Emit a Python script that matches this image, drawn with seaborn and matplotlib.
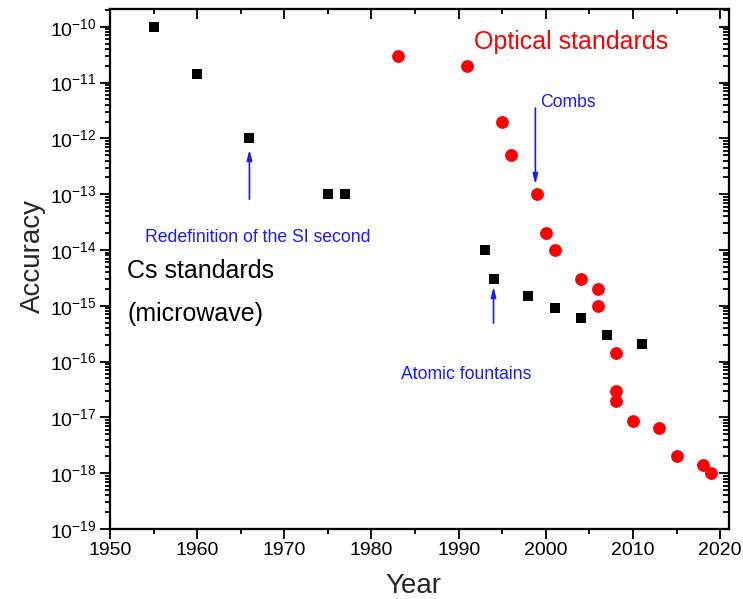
import numpy as np
import matplotlib
matplotlib.use('Agg')
import matplotlib.pyplot as plt
from matplotlib.ticker import FixedLocator, MultipleLocator, NullFormatter
import pandas as pd
import seaborn as sns

# Cs (microwave) standards
cs_year = [1955, 1960, 1966, 1975, 1977, 1993, 1994, 1998, 2001, 2004, 2007, 2011]
cs_acc = [1e-10, 1.4e-11, 1e-12, 1e-13, 1e-13, 1e-14, 3e-15, 1.5e-15, 9e-16, 6e-16, 3e-16, 2.1e-16]

# Optical standards
opt_year = [1983, 1991, 1995, 1996, 1999, 2000, 2001, 2004, 2006, 2006, 2008, 2008, 2008,
            2010, 2013, 2015, 2018, 2019]
opt_acc = [3e-11, 2e-11, 2e-12, 5e-13, 1e-13, 2e-14, 1e-14, 3e-15, 2e-15, 1e-15, 1.4e-16,
           3e-17, 2e-17, 8.5e-18, 6.5e-18, 2e-18, 1.4e-18, 1e-18]

df = pd.DataFrame({
    'Year': cs_year + opt_year,
    'Accuracy': cs_acc + opt_acc,
    'kind': ['Cs'] * len(cs_year) + ['Optical'] * len(opt_year),
})

sns.set_style('ticks')
plt.rcParams['font.family'] = ['Liberation Sans', 'DejaVu Sans']
plt.rcParams['mathtext.fontset'] = 'custom'
plt.rcParams['mathtext.rm'] = 'Liberation Sans'
plt.rcParams['mathtext.it'] = 'Liberation Sans:italic'

fig = plt.figure(figsize=(7.43, 5.99), dpi=100)
ax = fig.add_axes([0.148, 0.117, 0.833, 0.868])

# squares first, circles on top
sns.scatterplot(data=df[df.kind == 'Cs'], x='Year', y='Accuracy', marker='s', color='black',
                s=62, linewidth=0, ax=ax, zorder=3)
sns.scatterplot(data=df[df.kind == 'Optical'], x='Year', y='Accuracy', marker='o', color='#ff0000',
                s=85, linewidth=0, ax=ax, zorder=4)

xlim = (1950, 2021)
ylim = (1e-19, 10 ** -9.68)
y_major = 10.0 ** np.arange(-19, -9)
y_minor = np.outer(10.0 ** np.arange(-20, -9), np.arange(2, 10)).ravel()

ax.set_yscale('log')
ax.set_xlim(*xlim)
ax.set_ylim(*ylim)
ax.xaxis.set_major_locator(MultipleLocator(10))
ax.xaxis.set_minor_locator(MultipleLocator(5))
ax.yaxis.set_major_locator(FixedLocator(y_major))
ax.yaxis.set_minor_locator(FixedLocator(y_minor))
ax.yaxis.set_minor_formatter(NullFormatter())

# bottom / left ticks point outward, mirrored top / right ticks point inward
ax.tick_params(which='both', direction='out', top=False, right=False, width=1.3,
               colors='black', pad=2.5)
ax.tick_params(which='major', length=7, labelsize=14)
ax.tick_params(which='minor', length=3.5)

top = ax.twiny()
top.set_xlim(*xlim)
top.xaxis.set_major_locator(MultipleLocator(10))
top.xaxis.set_minor_locator(MultipleLocator(5))
top.tick_params(which='both', direction='in', labeltop=False, width=1.3, colors='black')
top.tick_params(which='major', length=7.5)
top.tick_params(which='minor', length=3.5)

right = ax.twinx()
right.set_yscale('log')
right.set_ylim(*ylim)
right.yaxis.set_major_locator(FixedLocator(y_major))
right.yaxis.set_minor_locator(FixedLocator(y_minor))
right.yaxis.set_major_formatter(NullFormatter())
right.yaxis.set_minor_formatter(NullFormatter())
right.tick_params(which='both', direction='in', labelright=False, width=1.3, colors='black')
right.tick_params(which='major', length=7)
right.tick_params(which='minor', length=4)

for a in (ax, top, right):
    for sp in a.spines.values():
        sp.set_linewidth(1.5)
        sp.set_color('black')

ax.set_xlabel('Year', fontsize=20)
ax.xaxis.set_label_coords(0.49, -0.085)
ax.set_ylabel('Accuracy', fontsize=20)
ax.yaxis.set_label_coords(-0.104, 0.525)

# annotations
ax.text(1991.8, 5.4e-11, 'Optical standards', color='#ff0000', fontsize=18, va='center', ha='left')
ax.text(1952, 10 ** -14.38, 'Cs standards', color='black', fontsize=18, va='center', ha='left')
ax.text(1952, 10 ** -15.14, '(microwave)', color='black', fontsize=18, va='center', ha='left')
ax.text(1954.0, 1.7e-14, 'Redefinition of the SI second', color='#1a1aff', fontsize=12.7,
        va='center', ha='left')
ax.text(1999.4, 4.4e-12, 'Combs', color='#1a1aff', fontsize=12.7, va='center', ha='left')
ax.text(1983.4, 10 ** -16.24, 'Atomic fountains', color='#1a1aff', fontsize=12.7,
        va='center', ha='left')

arrow = dict(arrowstyle='-|>,head_length=0.6,head_width=0.15', color='#1a1aff', lw=1.2,
             shrinkA=0, shrinkB=0)
ax.annotate('', xy=(1966, 6.3e-13), xytext=(1966, 8.1e-14), arrowprops=arrow)
ax.annotate('', xy=(1998.8, 1.5e-13), xytext=(1998.8, 3.5e-12), arrowprops=arrow)
ax.annotate('', xy=(1994.0, 2.2e-15), xytext=(1994.0, 4.9e-16), arrowprops=arrow)

fig.savefig('out.png', dpi=100)
